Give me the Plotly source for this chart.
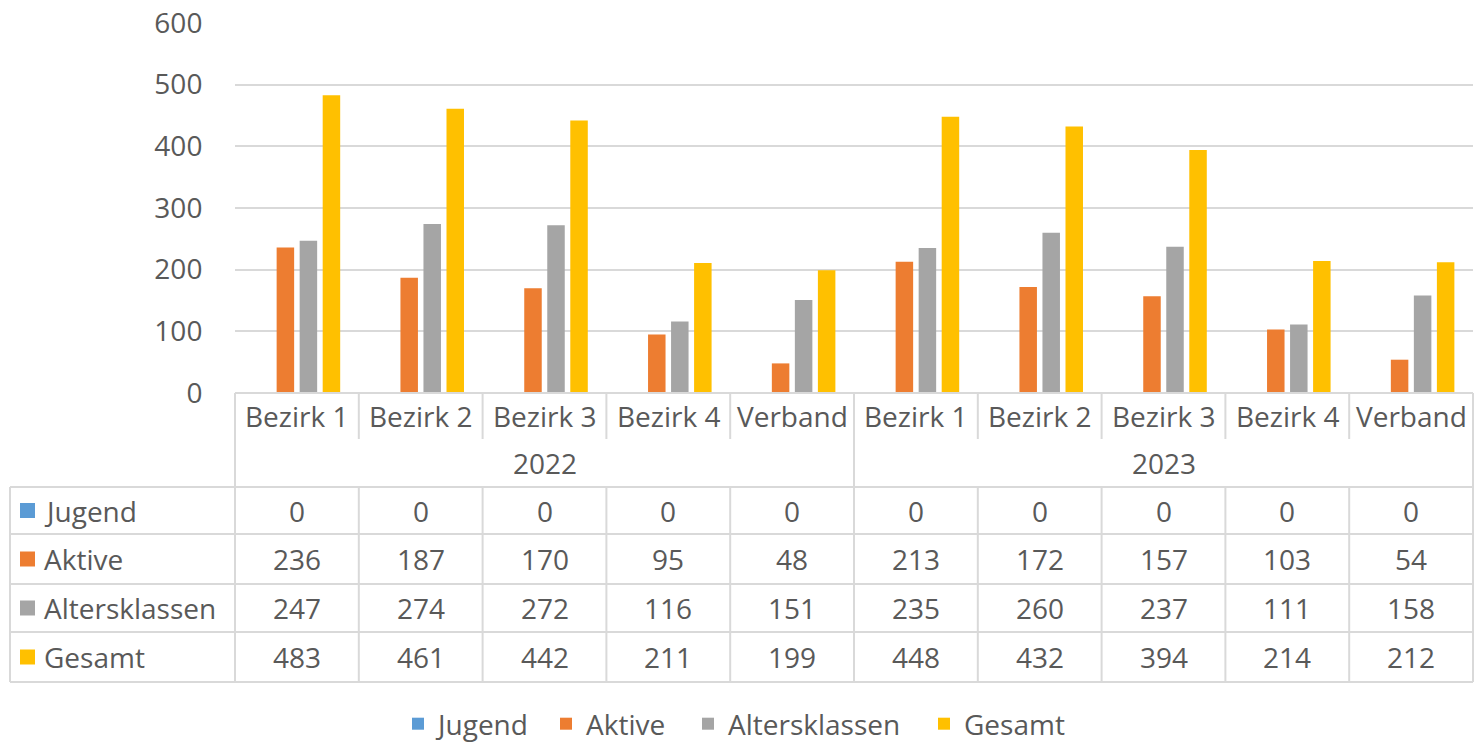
import plotly.graph_objects as go

# ---------------- data ----------------
categories = ["Bezirk 1", "Bezirk 2", "Bezirk 3", "Bezirk 4", "Verband",
              "Bezirk 1", "Bezirk 2", "Bezirk 3", "Bezirk 4", "Verband"]
years = ["2022", "2023"]
series_names = ["Jugend", "Aktive", "Altersklassen", "Gesamt"]
jugend = [0, 0, 0, 0, 0, 0, 0, 0, 0, 0]
aktive = [236, 187, 170, 95, 48, 213, 172, 157, 103, 54]
altersklassen = [247, 274, 272, 116, 151, 235, 260, 237, 111, 158]
gesamt = [483, 461, 442, 211, 199, 448, 432, 394, 214, 212]
y_ticks = [0, 100, 200, 300, 400, 500, 600]

# ---------------- style ----------------
colors = ["#5B9BD5", "#ED7D31", "#A5A5A5", "#FFC000"]
FONT = "Open Sans"
FS = 28
TXT = "#595959"
GRID = "#D9D9D9"

W, H = 1478, 744
L, R_PX = 235, 1473
T, B_PX = 23, 393
legend_marker_px = [418, 566, 708, 944]  # pixel centre of each legend key


def xp(px):
    return (px - L) / (R_PX - L)


def yp(py):
    return (B_PX - py) / (B_PX - T)


values = [jugend, aktive, altersklassen, gesamt]
n = len(categories)
xs = list(range(n))
legend_ids = ["legend", "legend2", "legend3", "legend4"]

fig = go.Figure()
for name, vals, col, lid in zip(series_names, values, colors, legend_ids):
    fig.add_trace(go.Bar(x=xs, y=vals, name=name, legend=lid,
                         marker=dict(color=col, line=dict(width=0))))

shapes = []
line_style = dict(color=GRID, width=2)

# horizontal lines of the data table
shapes.append(dict(type="line", xref="paper", yref="paper", x0=0, x1=1, y0=yp(393), y1=yp(393), line=line_style))
for py in [487, 534, 584, 632, 682]:
    shapes.append(dict(type="line", xref="paper", yref="paper", x0=xp(10), x1=1, y0=yp(py), y1=yp(py), line=line_style))

# outer vertical lines
shapes.append(dict(type="line", xref="paper", yref="paper", x0=0, x1=0, y0=yp(393), y1=yp(682), line=line_style))
shapes.append(dict(type="line", xref="paper", yref="paper", x0=1, x1=1, y0=yp(393), y1=yp(682), line=line_style))
shapes.append(dict(type="line", xref="paper", yref="paper", x0=xp(10), x1=xp(10), y0=yp(487), y1=yp(682), line=line_style))

# category separators
half = n // 2
for k in range(1, n):
    xb = k - 0.5
    if k == half:
        shapes.append(dict(type="line", xref="x", yref="paper", x0=xb, x1=xb, y0=yp(393), y1=yp(682), line=line_style))
    else:
        shapes.append(dict(type="line", xref="x", yref="paper", x0=xb, x1=xb, y0=yp(393), y1=yp(439), line=line_style))
        shapes.append(dict(type="line", xref="x", yref="paper", x0=xb, x1=xb, y0=yp(487), y1=yp(682), line=line_style))

annotations = []
font = dict(family=FONT, size=FS, color=TXT)

# category labels
for k, c in enumerate(categories):
    annotations.append(dict(x=k, y=yp(416), xref="x", yref="paper", text=c, showarrow=False,
                            font=font, xanchor="center", yanchor="middle"))
# year labels
for i, yr in enumerate(years):
    annotations.append(dict(x=(half - 1) / 2 + i * half, y=yp(463), xref="x", yref="paper", text=yr,
                            showarrow=False, font=font, xanchor="center", yanchor="middle"))

# table rows
row_centers = [510.5, 559, 608, 657]
for name, vals, col, rc in zip(series_names, values, colors, row_centers):
    shapes.append(dict(type="rect", xref="paper", yref="paper", x0=xp(20), x1=xp(35),
                       y0=yp(rc + 7.5), y1=yp(rc - 7.5), fillcolor=col, line=dict(width=0)))
    annotations.append(dict(x=xp(42), y=yp(rc), xref="paper", yref="paper", text=name, showarrow=False,
                            font=font, xanchor="left", yanchor="middle"))
    for k, v in enumerate(vals):
        annotations.append(dict(x=k, y=yp(rc), xref="x", yref="paper", text=str(v), showarrow=False,
                                font=font, xanchor="center", yanchor="middle"))

legends = {}
for lid, mx in zip(legend_ids, legend_marker_px):
    legends[lid] = dict(orientation="h", xref="container", yref="container",
                        x=(mx - 20) / W, xanchor="left", y=(H - 724) / H, yanchor="middle",
                        font=font, bgcolor="rgba(0,0,0,0)", borderwidth=0)

fig.update_layout(
    width=W, height=H,
    margin=dict(l=L, r=W - R_PX, t=T, b=H - B_PX, pad=0, autoexpand=False),
    plot_bgcolor="white", paper_bgcolor="white",
    barmode="group", bargap=0.256, bargroupgap=0.24,
    font=font,
    showlegend=True,
    xaxis=dict(range=[-0.5, n - 0.5], showticklabels=False, showgrid=False, zeroline=False,
               showline=False, ticks="", automargin=False),
    yaxis=dict(range=[0, 600], tickvals=y_ticks, showgrid=True, gridcolor=GRID, gridwidth=2,
               zeroline=False, showline=False, ticks="outside", ticklen=26,
               tickcolor="rgba(0,0,0,0)", tickfont=font, automargin=False),
    shapes=shapes,
    annotations=annotations,
    **legends,
)

fig.write_html("out.html", config={"displayModeBar": False},
               post_script="document.body.style.margin='0';document.body.style.overflow='hidden';")
